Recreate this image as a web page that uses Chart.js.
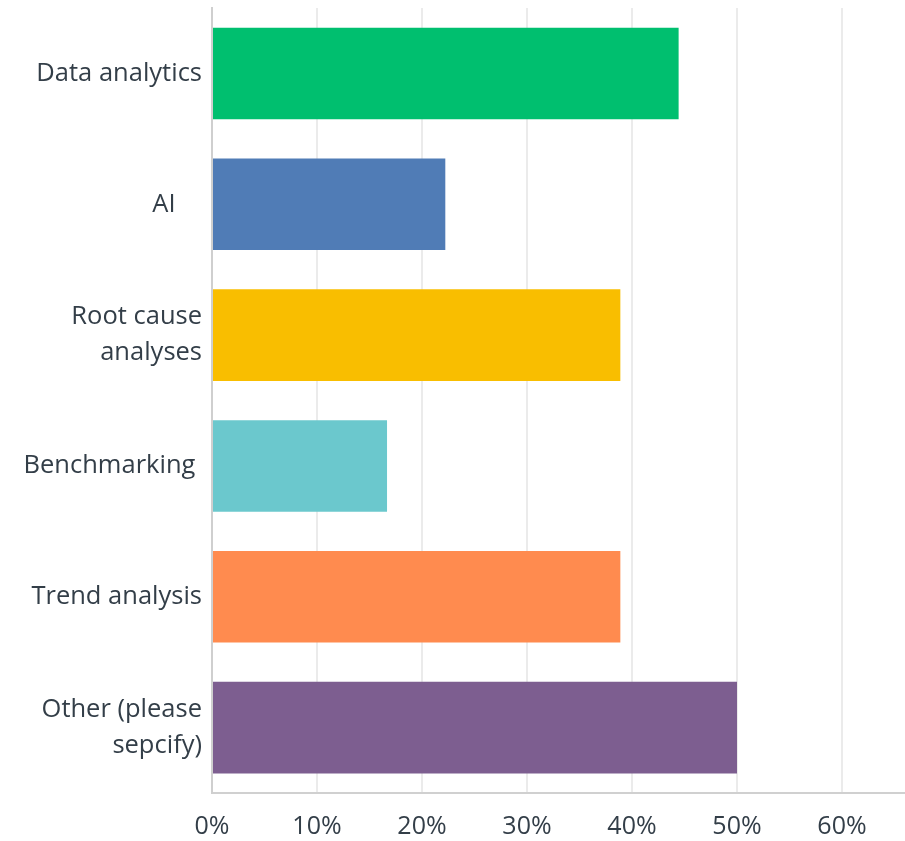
<!DOCTYPE html>
<html>
<head>
<meta charset="utf-8">
<script src="https://cdn.jsdelivr.net/npm/chart.js@4.4.1/dist/chart.umd.min.js"></script>
<style>
  html, body { margin: 0; padding: 0; background: #fff; }
  #wrap { width: 905px; height: 841px; }
</style>
</head>
<body>
<div id="wrap"><canvas id="answers"></canvas></div>
<script>
// answer choices (multi-line ones split into arrays)
const categories = [
    'Data analytics',
    'AI    ',
    ['Root cause', 'analyses'],
    'Benchmarking ',
    'Trend analysis',
    ['Other (please', 'sepcify)']
];

// share of respondents, in percent
const responses = [44.44, 22.22, 38.89, 16.67, 38.89, 50.0];

const barColors = ['#00bf6f', '#507cb6', '#f9be00', '#6bc8cd', '#ff8b4f', '#7d5e90'];

const axisMax = 66;

Chart.defaults.font.family = '"Open Sans", sans-serif';
Chart.defaults.color = '#333e48';

new Chart(document.getElementById('answers'), {
    type: 'bar',
    data: {
        labels: categories,
        datasets: [{
            data: responses,
            backgroundColor: barColors,
            borderWidth: 0,
            barPercentage: 0.7,
            categoryPercentage: 1.0
        }]
    },
    options: {
        indexAxis: 'y',
        responsive: true,
        maintainAspectRatio: false,
        animation: false,
        layout: { padding: { top: 8, right: 0, left: 0, bottom: 0 } },
        plugins: {
            legend: { display: false },
            tooltip: { enabled: false }
        },
        scales: {
            x: {
                min: 0,
                max: axisMax,
                ticks: {
                    stepSize: 10,
                    includeBounds: false,
                    padding: 19,
                    font: { size: 25 },
                    callback: v => v + '%'
                },
                grid: { color: '#ebebeb', lineWidth: 2, drawTicks: false },
                border: { color: '#d0d0d0', width: 2 },
                afterFit: scale => {
                    scale.height = 48;
                    scale.paddingLeft = 0;
                    scale.paddingRight = 0;
                }
            },
            y: {
                ticks: {
                    padding: 10,
                    font: { size: 25.5, lineHeight: 1.4 }
                },
                grid: { display: false, drawTicks: false },
                border: { color: '#cfcfcf', width: 2 },
                afterFit: scale => {
                    scale.width = 212;
                    scale.paddingTop = 0;
                    scale.paddingBottom = 0;
                }
            }
        }
    }
});
</script>
</body>
</html>
